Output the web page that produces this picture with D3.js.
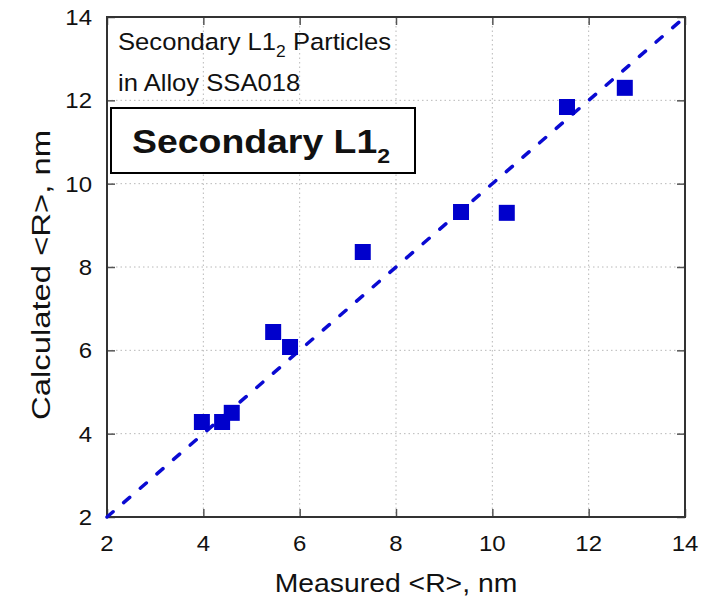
<!DOCTYPE html>
<html>
<head>
<meta charset="utf-8">
<script src="https://cdn.jsdelivr.net/npm/d3@7"></script>
<style>
  html, body { margin: 0; padding: 0; background: #fff; }
  svg { display: block; }
  text { font-family: Arial, "Liberation Sans", Helvetica, sans-serif; fill: #111; }
</style>
</head>
<body>
<svg id="chart" width="702" height="600"></svg>
<script>
// ---- data ----
const measured   = [3.97, 4.39, 4.59, 5.45, 5.80, 7.31, 9.35, 10.30, 11.55, 12.75];
const calculated = [4.28, 4.28, 4.50, 6.44, 6.08, 8.36, 9.32, 9.30, 11.84, 12.30];
const xTicks = [2, 4, 6, 8, 10, 12, 14];
const yTicks = [2, 4, 6, 8, 10, 12, 14];
const refLine = [[2, 2], [14, 14]];
const xTitle = "Measured <R>, nm";
const yTitle = "Calculated <R>, nm";

const svg = d3.select("#chart");
const m = {left: 107, right: 685, top: 17, bottom: 517};
const x = d3.scaleLinear().domain([2, 14]).range([m.left, m.right]);
const y = d3.scaleLinear().domain([2, 14]).range([m.bottom, m.top]);
const SX = 1.09;

// grid
const grid = svg.append("g");
grid.selectAll("line.gx").data(xTicks.slice(1, -1)).join("line")
  .attr("x1", d => x(d)).attr("x2", d => x(d))
  .attr("y1", m.top).attr("y2", m.bottom)
  .attr("stroke", "#b8b8b8").attr("stroke-width", 1).attr("stroke-dasharray", "1.5,3");
grid.selectAll("line.gy").data(yTicks.slice(1, -1)).join("line")
  .attr("y1", d => y(d)).attr("y2", d => y(d))
  .attr("x1", m.left).attr("x2", m.right)
  .attr("stroke", "#b8b8b8").attr("stroke-width", 1).attr("stroke-dasharray", "1.5,3");

// axes with inward ticks on all sides
const tickLen = 8;
const axB = svg.append("g").attr("transform", `translate(0,${m.bottom})`)
  .call(d3.axisBottom(x).tickValues(xTicks).tickSize(-tickLen).tickPadding(0).tickFormat(""));
const axT = svg.append("g").attr("transform", `translate(0,${m.top})`)
  .call(d3.axisTop(x).tickValues(xTicks).tickSize(-tickLen).tickFormat(""));
const axL = svg.append("g").attr("transform", `translate(${m.left},0)`)
  .call(d3.axisLeft(y).tickValues(yTicks).tickSize(-tickLen).tickFormat(""));
const axR = svg.append("g").attr("transform", `translate(${m.right},0)`)
  .call(d3.axisRight(y).tickValues(yTicks).tickSize(-tickLen).tickFormat(""));
[axB, axT, axL, axR].forEach(a => {
  a.select(".domain").remove();
  a.selectAll(".tick line").attr("stroke", "#555").attr("stroke-width", 1.5);
});

// frame
svg.append("rect").attr("x", m.left).attr("y", m.top)
  .attr("width", m.right - m.left).attr("height", m.bottom - m.top)
  .attr("fill", "none").attr("stroke", "#333").attr("stroke-width", 2);

// tick labels
function stext(g, tx, ty, anchor, size, str, weight) {
  return g.append("text")
    .attr("transform", `translate(${tx},${ty}) scale(${SX},1)`)
    .attr("text-anchor", anchor).attr("font-size", size)
    .attr("font-weight", weight || "normal").text(str);
}
const lab = svg.append("g");
xTicks.forEach(t => stext(lab, x(t), 551, "middle", 22, String(t)));
yTicks.forEach(t => stext(lab, 92, y(t) + 8, "end", 22, String(t)));

// axis titles
stext(lab, (m.left + m.right) / 2, 592, "middle", 26, xTitle);
svg.append("text")
  .attr("transform", `translate(50,${(m.top + m.bottom) / 2 + 8}) rotate(-90)`)
  .attr("text-anchor", "middle").attr("font-size", 25)
  .attr("textLength", 290).attr("lengthAdjust", "spacingAndGlyphs")
  .text(yTitle);

// reference line
svg.append("path").datum(refLine)
  .attr("d", d3.line().x(d => x(d[0])).y(d => y(d[1])))
  .attr("fill", "none").attr("stroke", "#0a0ad2").attr("stroke-width", 3.5)
  .attr("stroke-dasharray", "8,14").attr("stroke-linecap", "round");

// points
const sz = 16;
svg.append("g").selectAll("rect").data(measured).join("rect")
  .attr("x", (d, i) => x(d) - sz / 2)
  .attr("y", (d, i) => y(calculated[i]) - sz / 2)
  .attr("width", sz).attr("height", sz)
  .attr("fill", "#0000cc");

// annotations
const t1 = svg.append("text")
  .attr("transform", `translate(118,50) scale(${SX},1)`).attr("font-size", 23.5).attr("fill", "#222");
t1.append("tspan").text("Secondary L1");
t1.append("tspan").attr("font-size", 16).attr("dy", 7).text("2");
t1.append("tspan").attr("dy", -7).text(" Particles");
stext(svg, 118, 91, "start", 23.5, "in Alloy SSA018").attr("fill", "#222");

svg.append("rect").attr("x", 111).attr("y", 108).attr("width", 304).attr("height", 65)
  .attr("fill", "#fff").attr("stroke", "#000").attr("stroke-width", 2);
const t2 = svg.append("text")
  .attr("transform", `translate(132,153) scale(1.1,1)`)
  .attr("font-size", 34).attr("font-weight", "bold").attr("fill", "#000");
t2.append("tspan").text("Secondary L1");
t2.append("tspan").attr("font-size", 21).attr("dy", 10).text("2");
</script>
</body>
</html>
